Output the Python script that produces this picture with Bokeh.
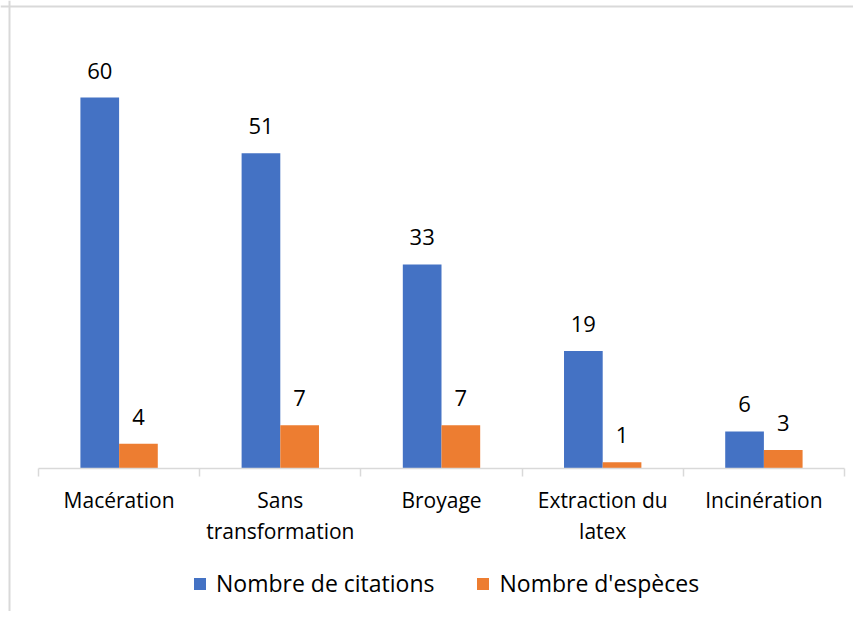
from bokeh.plotting import figure
from bokeh.models import ColumnDataSource, Range1d, FixedTicker, LabelSet, Legend, LegendItem, Span
from bokeh.core.properties import value
from bokeh.embed import file_html
from bokeh.resources import INLINE

categories = ["Macération", "Sans\ntransformation", "Broyage", "Extraction du\nlatex", "Incinération"]
citations = [60, 51, 33, 19, 6]
especes = [4, 7, 7, 1, 3]
series_names = ["Nombre de citations", "Nombre d'espèces"]
colors = ["#4472C4", "#ED7D31"]

FONT = "Open Sans"
n = len(categories)
centers = [i + 0.5 for i in range(n)]
bw = 0.24

# layout (canvas pixels)
W, H = 853, 611
X0_PX, X5_PX = 38.0, 844.0      # pixel positions of category boundaries 0 and n
Y0_PX, PX_PER_UNIT = 468.0, 6.183
sx = (X5_PX - X0_PX) / n
x_start = -X0_PX / sx
x_end = n + (W - X5_PX) / sx
y_end = Y0_PX / PX_PER_UNIT
y_start = -(H - Y0_PX) / PX_PER_UNIT

src_c = ColumnDataSource(dict(x=[c - bw / 2 for c in centers], top=citations,
                              lab=[str(v) for v in citations]))
src_e = ColumnDataSource(dict(x=[c + bw / 2 for c in centers], top=especes,
                              lab=[str(v) for v in especes]))

p = figure(width=W, height=H, output_backend="svg", toolbar_location=None,
           x_range=Range1d(x_start, x_end), y_range=Range1d(y_start, y_end),
           min_border=0, min_border_left=0, min_border_right=0,
           min_border_top=0, min_border_bottom=0)
p.outline_line_color = None
p.background_fill_color = "white"
p.border_fill_color = "white"
p.grid.visible = False
p.yaxis.visible = False

# chart-area border (top and left)
p.add_layout(Span(location=(Y0_PX - 6) / PX_PER_UNIT, dimension="width",
                  line_color="#d9d9d9", line_width=2))
p.add_layout(Span(location=(9 - X0_PX) / sx, dimension="height",
                  line_color="#d9d9d9", line_width=2))

r1 = p.vbar(x="x", top="top", width=bw, source=src_c, fill_color=colors[0], line_color=None)
r2 = p.vbar(x="x", top="top", width=bw, source=src_e, fill_color=colors[1], line_color=None)

for s in (src_c, src_e):
    p.add_layout(LabelSet(x="x", y="top", text="lab", source=s, text_align="center",
                          text_baseline="middle", y_offset=27, text_font=value(FONT),
                          text_font_size="22px", text_color="#000000"))

ax = p.xaxis[0]
ax.fixed_location = 0
ax.bounds = (0, n)
ax.ticker = FixedTicker(ticks=centers, minor_ticks=list(range(n + 1)))
ax.major_label_overrides = {c: lab for c, lab in zip(centers, categories)}
ax.major_tick_line_color = None
ax.major_tick_out = 0
ax.major_tick_in = 0
ax.minor_tick_out = 8
ax.minor_tick_in = 0
ax.minor_tick_line_color = "#d9d9d9"
ax.minor_tick_line_width = 1.5
ax.axis_line_color = "#d9d9d9"
ax.axis_line_width = 1.5
ax.major_label_standoff = 9
ax.major_label_text_font = FONT
ax.major_label_text_font_size = "21px"
ax.major_label_text_color = "#000000"
ax.major_label_text_line_height = 1.12

legend = Legend(items=[LegendItem(label=series_names[0], renderers=[r1]),
                       LegendItem(label=series_names[1], renderers=[r2])],
                orientation="horizontal", location=(192, 12),
                label_text_font=FONT, label_text_font_size="23px", label_text_color="#000000",
                glyph_width=15, glyph_height=15, spacing=41, label_standoff=9,
                border_line_color=None, background_fill_alpha=0, padding=8, margin=0)
p.add_layout(legend)

open("out.html", "w").write(file_html(p, INLINE))
